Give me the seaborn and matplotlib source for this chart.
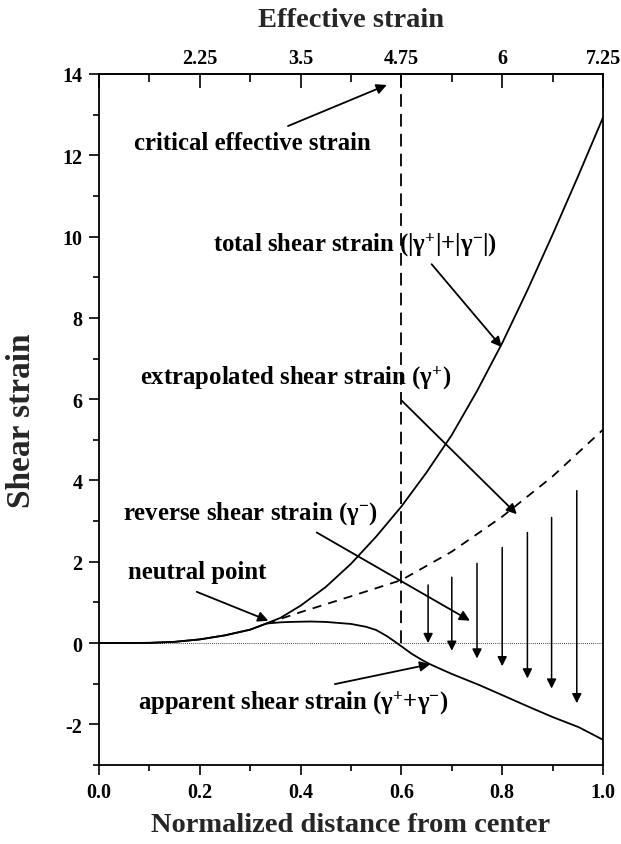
import numpy as np
import pandas as pd
import matplotlib
matplotlib.use("Agg")
import matplotlib.pyplot as plt
import seaborn as sns

# ---------------- data ----------------
total_x = [0.0, 0.1, 0.15, 0.2, 0.25, 0.3, 0.332, 0.36, 0.4, 0.45, 0.5, 0.55, 0.6, 0.65, 0.7, 0.75, 0.8, 0.85, 0.9, 0.95, 1.0]
total_y = [0.0, 0.005, 0.03, 0.09, 0.19, 0.33, 0.48, 0.62, 0.92, 1.38, 1.95, 2.62, 3.36, 4.2, 5.12, 6.2, 7.38, 8.68, 10.05, 11.47, 12.93]

appar_x = [0.0, 0.1, 0.15, 0.2, 0.25, 0.3, 0.332, 0.36, 0.38, 0.42, 0.45, 0.5, 0.53, 0.55, 0.57, 0.583, 0.6, 0.62, 0.64, 0.655, 0.68, 0.7, 0.754, 0.8, 0.853, 0.9, 0.952, 1.0]
appar_y = [0.0, 0.005, 0.03, 0.09, 0.19, 0.33, 0.48, 0.51, 0.52, 0.53, 0.52, 0.47, 0.40, 0.32, 0.18, 0.07, -0.08, -0.26, -0.41, -0.51, -0.65, -0.76, -1.03, -1.28, -1.57, -1.82, -2.07, -2.38]

extra_x = [0.332, 0.4, 0.5, 0.6, 0.7, 0.8, 0.9, 1.0]
extra_y = [0.48, 0.76, 1.15, 1.55, 2.25, 3.11, 4.1, 5.25]

rev_x = [0.653, 0.70, 0.75, 0.80, 0.85, 0.898, 0.948]
rev_top = [1.43, 1.62, 1.96, 2.35, 2.72, 3.09, 3.75]
rev_bot = [0.0, -0.19, -0.38, -0.57, -0.87, -1.12, -1.48]

critical_x = 0.6
x_ticks = [0.0, 0.2, 0.4, 0.6, 0.8, 1.0]
y_ticks = [-2, 0, 2, 4, 6, 8, 10, 12, 14]
top_ticks = [1.0, 2.25, 3.5, 4.75, 6, 7.25]
top_labels = ["", "2.25", "3.5", "4.75", "6", "7.25"]

# ---------------- style ----------------
sns.set_theme(style="ticks")
plt.rcParams["font.family"] = ["Liberation Serif", "DejaVu Serif"]
plt.rcParams["font.weight"] = "bold"
plt.rcParams["mathtext.fontset"] = "custom"
plt.rcParams["mathtext.rm"] = "Liberation Serif"
plt.rcParams["mathtext.it"] = "Liberation Serif:italic"
plt.rcParams["mathtext.bf"] = "Liberation Serif:bold"
plt.rcParams["mathtext.default"] = "rm"

W, H = 621, 845
fig = plt.figure(figsize=(W / 100, H / 100), dpi=100)
L, R, T, B = 99, 603, 75, 766
ax = fig.add_axes([L / W, 1 - B / H, (R - L) / W, (B - T) / H])

df_total = pd.DataFrame({"x": total_x, "y": total_y})
df_app = pd.DataFrame({"x": appar_x, "y": appar_y})
df_ext = pd.DataFrame({"x": extra_x, "y": extra_y})

ax.axhline(0, color="black", lw=0.6, ls=(0, (1, 1.5)), zorder=1)
sns.lineplot(data=df_total, x="x", y="y", ax=ax, color="black", lw=1.3, sort=False, estimator=None)
sns.lineplot(data=df_app, x="x", y="y", ax=ax, color="black", lw=1.3, sort=False, estimator=None)
sns.lineplot(data=df_ext, x="x", y="y", ax=ax, color="black", lw=1.3, sort=False, estimator=None,
             linestyle=(0, (5, 4)))
ax.plot([critical_x, critical_x], [0, 14], color="black", lw=1.3, ls=(0, (7, 4)))

for xv, t, b in zip(rev_x, rev_top, rev_bot):
    ax.annotate("", xy=(xv, b), xytext=(xv, t),
                arrowprops=dict(arrowstyle="-|>", color="black", lw=1.1,
                                mutation_scale=14, shrinkA=0, shrinkB=0))

ax.set_xlim(0, 1.0)
ax.set_ylim(-3, 14)
ax.set_xticks(x_ticks)
ax.set_xticklabels([f"{v:.1f}" for v in x_ticks])
ax.set_yticks(y_ticks)
ax.set_yticklabels([str(v) for v in y_ticks])
ax.set_xticks(np.arange(0.1, 1.0, 0.2), minor=True)
ax.set_yticks(np.arange(-3, 14, 2), minor=True)

for sp in ax.spines.values():
    sp.set_visible(True)
    sp.set_color("black")
    sp.set_linewidth(1.3)

ax.tick_params(axis="both", which="major", direction="out", length=7, width=1.2,
               labelsize=14.5, color="black", labelcolor="black", pad=5)
ax.tick_params(axis="both", which="minor", direction="out", length=4, width=1.2, color="black")
ax.tick_params(axis="y", which="both", right=False)
ax.tick_params(axis="x", which="both", top=False)
for lab in ax.get_xticklabels() + ax.get_yticklabels():
    lab.set_fontweight("bold")

ax.set_xlabel("Normalized distance from center", fontsize=20.5, fontweight="bold")
ax.set_ylabel("Shear strain", fontsize=24, fontweight="bold")
ax.yaxis.set_label_coords(-(L - 22) / (R - L), 0.5)
ax.xaxis.set_label_coords(0.5, -(826 - B) / (B - T))
ax.xaxis.label.set_va("center")
ax.yaxis.label.set_va("center")

sec = ax.secondary_xaxis("top", functions=(lambda x: 1 + 6.25 * x, lambda e: (e - 1) / 6.25))
sec.set_xticks(top_ticks)
sec.set_xticklabels(top_labels)
sec.set_xticks([1.625, 2.875, 4.125, 5.375, 6.625], minor=True)
sec.tick_params(axis="x", which="major", direction="in", length=10, width=1.2,
                labelsize=14.5, color="black", labelcolor="black", pad=4)
sec.tick_params(axis="x", which="minor", direction="in", length=6, width=1.2, color="black")
for lab in sec.get_xticklabels():
    lab.set_fontweight("bold")
sec.set_xlabel("Effective strain", fontsize=20.5, fontweight="bold", labelpad=16)

# ---------------- annotations ----------------
arrow_kw = dict(arrowstyle="-|>", color="black", lw=1.3, mutation_scale=15, shrinkA=0, shrinkB=0)
fs = 17.8

def note(text, tx, ty, ax0, ay0, ax1, ay1):
    ax.annotate("", xy=(ax1, ay1), xytext=(ax0, ay0), arrowprops=arrow_kw)
    ax.text(tx, ty, text, fontsize=fs, fontweight="bold", ha="left", va="center", color="black")

note("critical effective strain", 0.069, 12.32, 0.375, 12.72, 0.571, 13.73)
note(r"total shear strain $(|\gamma^{+}|{+}|\gamma^{-}|)$", 0.226, 9.82, 0.66, 9.32, 0.799, 7.28)
note(r"extrapolated shear strain $(\gamma^{+})$", 0.081, 6.54, 0.601, 5.96, 0.829, 3.17)
note(r"reverse shear strain $(\gamma^{-})$", 0.048, 3.22, 0.432, 2.72, 0.736, 0.55)
note("neutral point", 0.058, 1.75, 0.194, 1.26, 0.336, 0.55)
note(r"apparent shear strain $(\gamma^{+}{+}\gamma^{-})$", 0.077, -1.45, 0.468, -1.01, 0.657, -0.52)

fig.savefig("out.png", dpi=100, facecolor="white")
